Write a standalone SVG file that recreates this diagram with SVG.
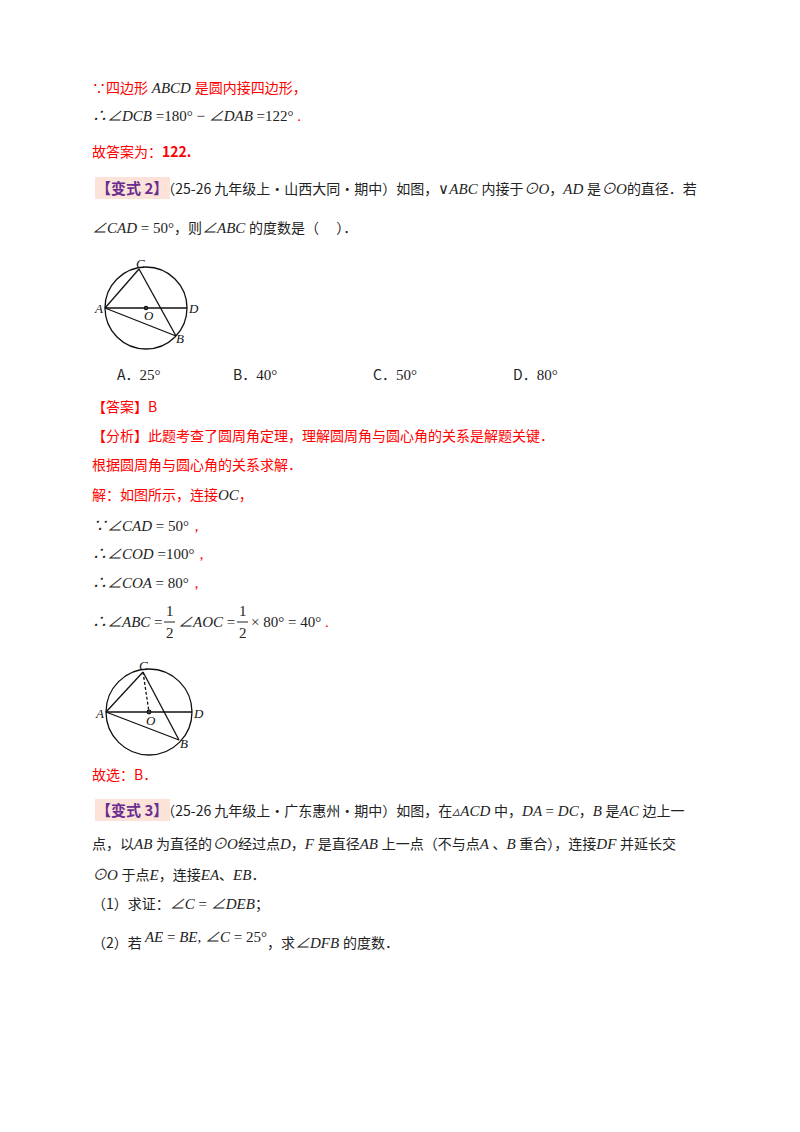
<svg xmlns="http://www.w3.org/2000/svg" width="800" height="1132" viewBox="0 0 800 1132">
<style>
text{font-family:"Noto Sans CJK SC","Noto Sans",sans-serif;font-size:14px;fill:#222}
.r{fill:#f00}
.m{font-family:"Liberation Serif","Noto Sans CJK SC",serif;font-style:italic;font-size:15px}
.n{font-family:"Liberation Serif",serif;font-style:normal}
.b{font-weight:bold}
.p{fill:#6a2d8f;font-weight:bold;font-size:15px}
.g line,.g circle{stroke:#111;stroke-width:1.3;fill:none}
.l{font-family:"Liberation Serif",serif;font-style:italic;font-size:13px;fill:#111}
</style>
<rect width="800" height="1132" fill="#fff"/>
<text x="92" y="93"><tspan class="r">∵四边形</tspan><tspan class="m"> ABCD </tspan><tspan class="r">是圆内接四边形，</tspan></text>
<text x="92" y="121" class="m">∴∠DCB <tspan class="n">=180° − </tspan>∠DAB <tspan class="n">=122°</tspan><tspan class="r n"> .</tspan></text>
<text x="92" y="157" class="r">故答案为：<tspan class="b">122.</tspan></text>
<rect x="95" y="177" width="75" height="22" fill="#fbe3d9"/>
<text x="96" y="194"><tspan class="p">【变式 2】</tspan>（25-26 九年级上·山西大同·期中）如图，<tspan class="m n">∨</tspan><tspan class="m">ABC </tspan>内接于<tspan class="m">⊙O</tspan>，<tspan class="m">AD </tspan>是<tspan class="m">⊙O</tspan>的直径．若</text>
<text x="92" y="233"><tspan class="m">∠CAD <tspan class="n">= 50°</tspan></tspan>，则<tspan class="m">∠ABC </tspan>的度数是（　 ）．</text>
<g class="g" id="fig1">
<circle cx="146" cy="308" r="41"/>
<line x1="105" y1="308" x2="187" y2="308"/>
<line x1="105" y1="308" x2="139" y2="269"/>
<line x1="139" y1="269" x2="176" y2="336"/>
<line x1="105" y1="308" x2="176" y2="336"/>
<circle cx="146" cy="308" r="1.6" fill="#111"/>
<text class="l" x="136" y="268">C</text><text class="l" x="95" y="313">A</text><text class="l" x="144" y="320">O</text><text class="l" x="189" y="313">D</text><text class="l" x="176" y="343">B</text>
</g>
<text x="117" y="380">A．<tspan class="m n">25°</tspan></text>
<text x="233" y="380">B．<tspan class="m n">40°</tspan></text>
<text x="373" y="380">C．<tspan class="m n">50°</tspan></text>
<text x="513" y="380">D．<tspan class="m n">80°</tspan></text>
<text x="92" y="412" class="r">【答案】B</text>
<text x="92" y="441" class="r">【分析】此题考查了圆周角定理，理解圆周角与圆心角的关系是解题关键．</text>
<text x="92" y="470" class="r">根据圆周角与圆心角的关系求解．</text>
<text x="92" y="500"><tspan class="r">解：如图所示，连接</tspan><tspan class="m">OC</tspan><tspan class="r">，</tspan></text>
<text x="92" y="531" class="m">∵∠CAD <tspan class="n">= 50°</tspan><tspan class="r n">，</tspan></text>
<text x="92" y="559" class="m">∴∠COD <tspan class="n">=100°</tspan><tspan class="r n">，</tspan></text>
<text x="92" y="588" class="m">∴∠COA <tspan class="n">= 80°</tspan><tspan class="r n">，</tspan></text>
<text x="92" y="627" class="m">∴∠ABC <tspan class="n">=</tspan></text>
<text x="166" y="616" class="m n">1</text><line x1="164" y1="622" x2="175" y2="622" stroke="#222"/><text x="166" y="638" class="m n">2</text>
<text x="178" y="627" class="m">∠AOC <tspan class="n">=</tspan></text>
<text x="239" y="616" class="m n">1</text><line x1="237" y1="622" x2="248" y2="622" stroke="#222"/><text x="239" y="638" class="m n">2</text>
<text x="251" y="627" class="m n">× 80° = 40°<tspan class="r"> .</tspan></text>
<g class="g" id="fig2">
<circle cx="149" cy="712" r="43"/>
<line x1="106" y1="712" x2="192" y2="712"/>
<line x1="106" y1="712" x2="143" y2="672"/>
<line x1="143" y1="672" x2="179" y2="740"/>
<line x1="106" y1="712" x2="179" y2="740"/>
<line x1="143" y1="672" x2="149" y2="712" stroke-dasharray="3,2"/>
<circle cx="149" cy="712" r="1.8" fill="#111"/>
<text class="l" x="139" y="670">C</text><text class="l" x="96" y="718">A</text><text class="l" x="146" y="725">O</text><text class="l" x="194" y="718">D</text><text class="l" x="180" y="748">B</text>
</g>
<text x="92" y="780" class="r">故选：B．</text>
<rect x="95" y="799" width="75" height="22" fill="#fbe3d9"/>
<text x="96" y="816"><tspan class="p">【变式 3】</tspan>（25-26 九年级上·广东惠州·期中）如图，在<tspan class="m">▵ACD </tspan>中，<tspan class="m">DA <tspan class="n">=</tspan> DC</tspan>，<tspan class="m">B </tspan>是<tspan class="m">AC </tspan>边上一</text>
<text x="92" y="849">点，以<tspan class="m">AB </tspan>为直径的<tspan class="m">⊙O</tspan>经过点<tspan class="m">D</tspan>，<tspan class="m">F </tspan>是直径<tspan class="m">AB </tspan>上一点（不与点<tspan class="m">A </tspan>、<tspan class="m">B </tspan>重合），连接<tspan class="m">DF </tspan>并延长交</text>
<text x="92" y="880"><tspan class="m">⊙O </tspan>于点<tspan class="m">E</tspan>，连接<tspan class="m">EA</tspan>、<tspan class="m">EB</tspan>．</text>
<text x="92" y="909">（1）求证：<tspan class="m">∠C <tspan class="n">=</tspan> ∠DEB</tspan>；</text>
<text x="92" y="948">（2）若 <tspan class="m" dy="-6">AE <tspan class="n">=</tspan> BE, ∠C <tspan class="n">= 25°</tspan></tspan><tspan dy="6">，求</tspan><tspan class="m">∠DFB </tspan>的度数．</text>
</svg>
